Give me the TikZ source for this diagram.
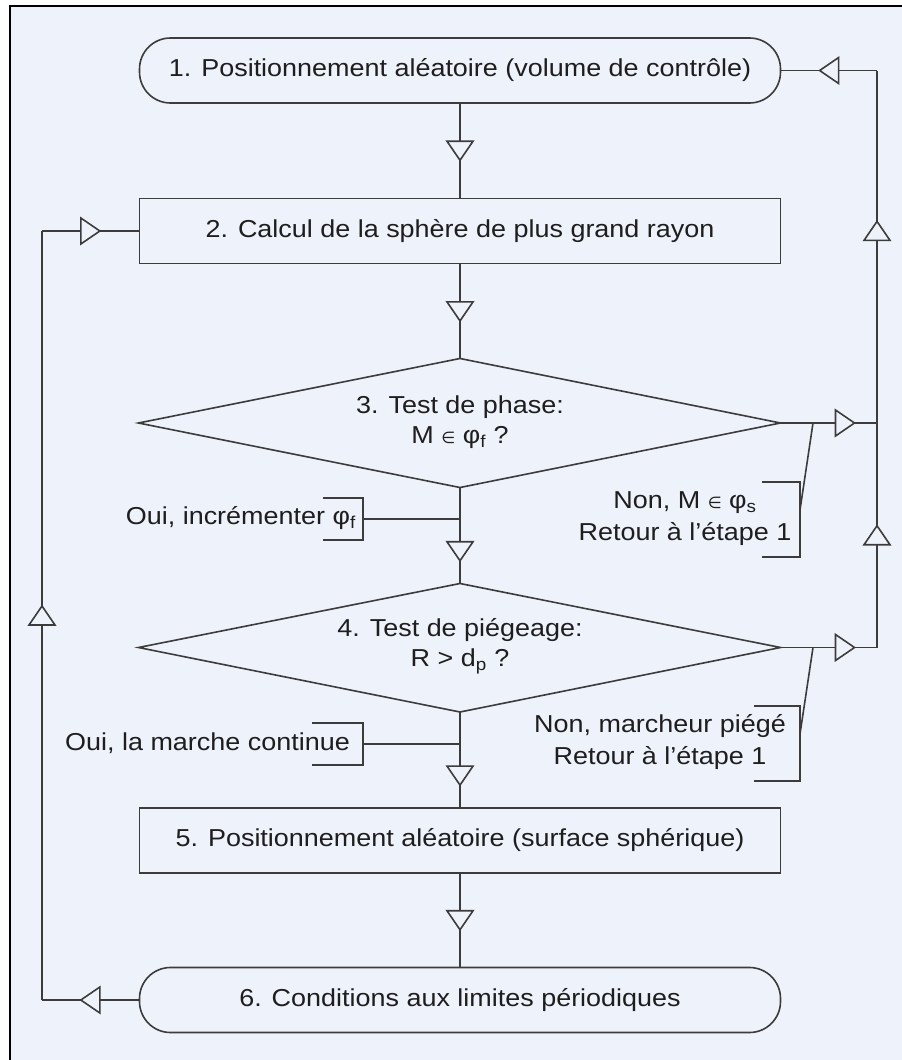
\documentclass[tikz,border=0pt]{standalone}
\usepackage{fontspec}
\setmainfont{Liberation Sans}[FakeStretch=1.1]
\newfontfamily\symfnt{DejaVu Sans}
\usetikzlibrary{decorations.markings}
\definecolor{bgc}{HTML}{EEF2FB}
\definecolor{lnc}{HTML}{3C3C3C}
\definecolor{txc}{HTML}{1E1E1E}
\newcommand{\elemsym}{{\symfnt\fontsize{16}{16}\selectfont ∈}}
\begin{document}
\begin{tikzpicture}[x=1pt,y=-1pt,
  every node/.style={font=\fontsize{24.5}{30}\selectfont, text=txc},
  basebox/.style={draw=lnc, line width=1.6pt, fill=bgc, minimum width=641pt, inner sep=0pt},
  procbox/.style={basebox, rectangle, minimum height=65pt},
  termbox/.style={basebox, rectangle, rounded corners=31pt, minimum height=65pt},
  dectext/.style={align=center, inner sep=0pt},
  decshape/.style={draw=lnc, line width=1.6pt, fill=bgc, line join=miter},
  link/.style={draw=lnc, line width=1.6pt},
  tri/.style={link, postaction=decorate, decoration={markings, mark=at position #1 with {\filldraw[fill=bgc, draw=lnc, line width=1.6pt, line join=miter] (9.5pt,0pt) -- (-9.5pt,13pt) -- (-9.5pt,-13pt) -- cycle;}}},
  tri/.default=0.5,
  note/.style={align=center, inner sep=0pt, font=\fontsize{24.5}{32}\selectfont},
]
\useasboundingbox (0,0) rectangle (902,1060);
\fill[white] (0,0) rectangle (902,1060);
\fill[bgc] (9.5,5.5) rectangle (902,1060);
\draw[black, line width=2pt] (9.5,1060) -- (9.5,5.5) -- (902,5.5);

% main nodes
\node[termbox] (n1) at (460,70.5) {1. Positionnement aléatoire (volume de contrôle)};
\node[procbox] (n2) at (460,231) {2. Calcul de la sphère de plus grand rayon};

\coordinate (d3w) at (138.5,423);
\coordinate (d3n) at (460,358.5);
\coordinate (d3e) at (780.5,423);
\coordinate (d3s) at (460,487.5);
\draw[decshape] (d3w) -- (d3n) -- (d3e) -- (d3s) -- cycle;
\node[dectext] (d3) at (460,422) {3. Test de phase:\\M \elemsym{} φ\textsubscript{f} ?};

\coordinate (d4w) at (138.5,647.5);
\coordinate (d4n) at (460,583.5);
\coordinate (d4e) at (780.5,647.5);
\coordinate (d4s) at (460,712);
\draw[decshape] (d4w) -- (d4n) -- (d4e) -- (d4s) -- cycle;
\node[dectext] (d4) at (460,646.5) {4. Test de piégeage:\\R > d\textsubscript{p} ?};

\node[procbox] (n5) at (460,840.5) {5. Positionnement aléatoire (surface sphérique)};
\node[termbox] (n6) at (460,1000) {6. Conditions aux limites périodiques};

% helper coordinates
\coordinate (j3) at (460,519);
\coordinate (j4) at (460,744);
\coordinate (r3) at (813,423);
\coordinate (r4) at (813,647.5);
\coordinate (R3) at (877,423);
\coordinate (R4) at (877,647.5);
\coordinate (R1) at (877,70.5);
\coordinate (L6) at (42,1000);
\coordinate (L2) at (42,231);

% main flow
\draw[tri] (n1.south) -- (n2.north);
\draw[tri] (n2.south) -- (d3n);
\draw[link] (d3s) -- (j3);
\draw[tri] (j3) -- (d4n);
\draw[link] (d4s) -- (j4);
\draw[tri] (j4) -- (n5.north);
\draw[tri] (n5.south) -- (n6.north);

% left loop
\draw[tri] (n6.west) -- (L6);
\draw[tri] (L6) -- (L2);
\draw[tri] (L2) -- (n2.west);

% right loop
\draw[link] (d3e) -- (r3);
\draw[tri] (r3) -- (R3);
\draw[link] (d4e) -- (r4);
\draw[tri] (r4) -- (R4);
\draw[tri] (R4) -- (R3);
\draw[tri=0.545] (R3) -- (R1);
\draw[tri] (R1) -- (n1.east);

% annotations right
\node[note] (t3) at (685,518.5) {Non, M \elemsym{} φ\textsubscript{s}\\Retour à l’étape 1};
\coordinate (b3) at (800,510);
\draw[link] (762,482) -- (800,482) -- (800,557) -- (762,557);
\draw[link] (r3) -- (b3);

\node[note] (t4) at (660,742.5) {Non, marcheur piégé\\Retour à l’étape 1};
\coordinate (b4) at (800,734);
\draw[link] (754,706) -- (800,706) -- (800,781) -- (754,781);
\draw[link] (r4) -- (b4);

% annotations left
\node[note, anchor=east] (t3l) at (356,518) {Oui, incrémenter φ\textsubscript{f}};
\coordinate (k3) at (363,519);
\draw[link] (323,498) -- (363,498) -- (363,540) -- (323,540);
\draw[link] (k3) -- (j3);

\node[note, anchor=east] (t4l) at (350,743) {Oui, la marche continue};
\coordinate (k4) at (363,744);
\draw[link] (312,723) -- (363,723) -- (363,765) -- (312,765);
\draw[link] (k4) -- (j4);
\end{tikzpicture}
\end{document}
